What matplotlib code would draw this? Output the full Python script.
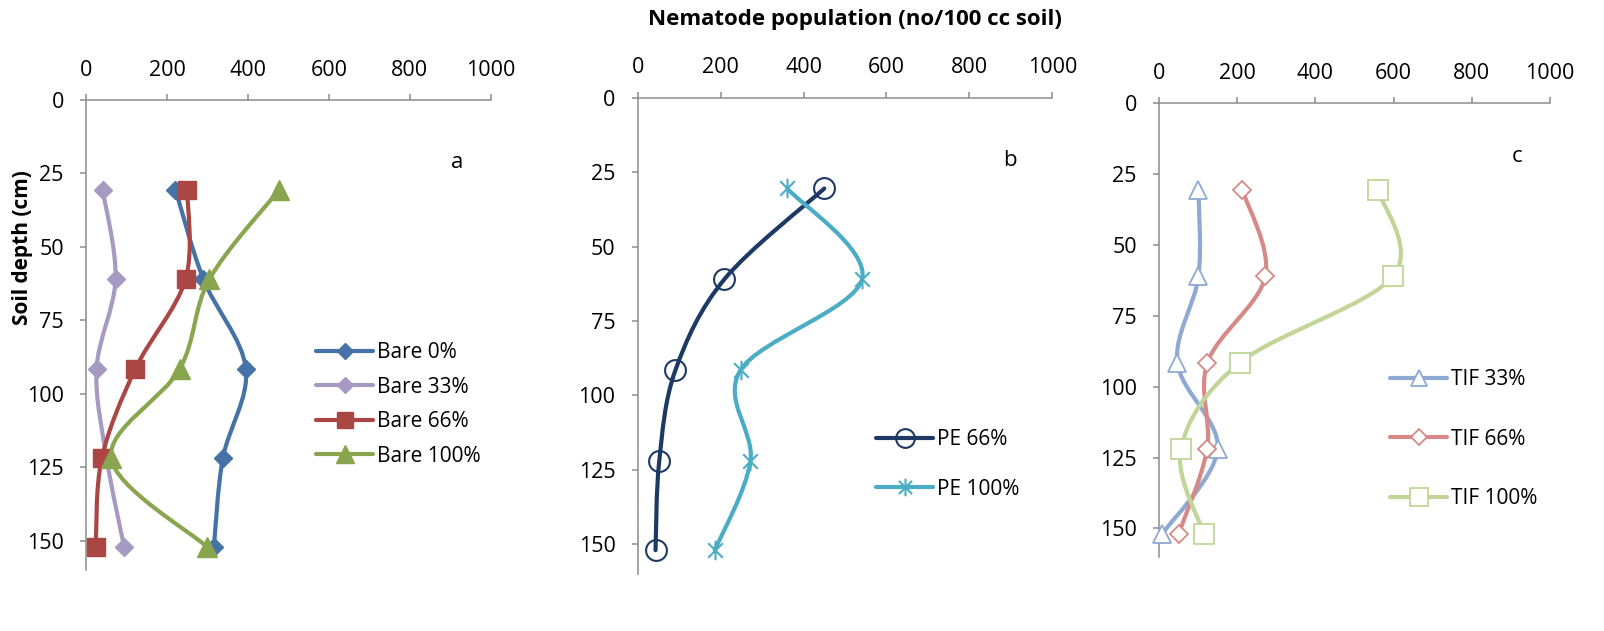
import numpy as np
import matplotlib
matplotlib.use("Agg")
import matplotlib.pyplot as plt
from matplotlib.path import Path
from matplotlib.patches import PathPatch
from matplotlib.lines import Line2D

plt.rcParams['font.family'] = ['Open Sans', 'DejaVu Sans']

# ---------------- data ----------------
depth = [30.5, 61, 91.5, 122, 152]

bare_labels = ["Bare 0%", "Bare 33%", "Bare 66%", "Bare 100%"]
bare_0 = [221, 290, 395, 338, 316]
bare_33 = [41, 73, 26, 51, 94]
bare_66 = [250, 246, 122, 39, 24]
bare_100 = [478, 305, 232, 62, 298]

pe_labels = ["PE 66%", "PE 100%"]
pe_66 = [450, 209, 91, 52, 43]
pe_100 = [361, 541, 248, 272, 186]

tif_labels = ["TIF 33%", "TIF 66%", "TIF 100%"]
tif_33 = [101, 101, 47, 150, 8]
tif_66 = [213, 272, 124, 123, 50]
tif_100 = [560, 599, 207, 56, 115]

panel_letters = ["a", "b", "c"]
x_ticks = [0, 200, 400, 600, 800, 1000]
y_ticks = [0, 25, 50, 75, 100, 125, 150]

W, H = 1604, 631
fig = plt.figure(figsize=(W / 100, H / 100), dpi=100)

TICK_FS = 15.5
LEG_FS = 15
star = Path([(0, -1), (0, 1), (-0.75, -0.75), (0.75, 0.75), (-0.75, 0.75), (0.75, -0.75)],
            [Path.MOVETO, Path.LINETO, Path.MOVETO, Path.LINETO, Path.MOVETO, Path.LINETO])


def smooth_path(x, y):
    P = np.column_stack([x, y]).astype(float)
    m = len(P)
    verts = [P[0]]
    codes = [Path.MOVETO]
    for i in range(m - 1):
        p0 = P[i - 1] if i > 0 else P[i]
        p3 = P[i + 2] if i + 2 < m else P[i + 1]
        c1 = P[i] + (P[i + 1] - p0) / 6.0
        c2 = P[i + 1] - (p3 - P[i]) / 6.0
        verts += [c1, c2, P[i + 1]]
        codes += [Path.CURVE4] * 3
    return Path(verts, codes)


def make_axes(px_left, px_right, px_top, px_bottom):
    l = px_left / W
    w = (px_right - px_left) / W
    b = 1 - px_bottom / H
    h = (px_bottom - px_top) / H
    ax = fig.add_axes([l, b, w, h])
    ax.set_xlim(0, 1000)
    ax.set_ylim(160, 0)
    ax.xaxis.tick_top()
    ax.set_xticks(x_ticks)
    ax.set_yticks(y_ticks)
    for s in ["right", "bottom"]:
        ax.spines[s].set_visible(False)
    for s in ["left", "top"]:
        ax.spines[s].set_color("#8c8c8c")
        ax.spines[s].set_linewidth(1.1)
    ax.tick_params(axis="both", direction="out", length=4, width=1.1, color="#8c8c8c",
                   labelsize=TICK_FS, labelcolor="black")
    ax.tick_params(axis="x", pad=10)
    ax.tick_params(axis="y", pad=12)
    ax.patch.set_visible(False)
    return ax


def draw_series(ax, x, y, color, lw, marker, ms, mfc, mec, mew, label):
    ax.add_patch(PathPatch(smooth_path(x, y), fill=False, edgecolor=color, lw=lw,
                           capstyle="round", joinstyle="round", zorder=2))
    ax.plot(x, y, ls="none", marker=marker, ms=ms, mfc=mfc, mec=mec, mew=mew, zorder=3,
            clip_on=False)
    return Line2D([], [], color=color, lw=lw, marker=marker, ms=ms * 0.9, mfc=mfc, mec=mec,
                  mew=mew, solid_capstyle="round", label=label)


LW = 3.0
leg_kw = dict(loc="upper left", frameon=False, fontsize=LEG_FS, handlelength=2.75,
              handletextpad=0.2, borderpad=0, borderaxespad=0, numpoints=1)

# Panel a
ax1 = make_axes(86, 490.7, 100, 570)
bare_series = [bare_0, bare_33, bare_66, bare_100]
bare_style = [("#4572A7", "D", 9), ("#A69AC2", "D", 9), ("#AA4643", "s", 13), ("#89A54E", "^", 14)]
h1 = []
for vals, (c, mk, ms), lab in zip(bare_series, bare_style, bare_labels):
    h1.append(draw_series(ax1, vals, depth, c, LW, mk, ms, c, c, 1, lab))
fig.text(457 / W, 1 - 162 / H, panel_letters[0], fontsize=16, ha="center", va="center")
fig.legend(handles=h1, bbox_to_anchor=(316 / W, 1 - 342 / H), labelspacing=0.65, **leg_kw)

# Panel b
ax2 = make_axes(637.7, 1052.3, 97.7, 574)
h2 = []
h2.append(draw_series(ax2, pe_66, depth, "#1C3A63", LW, "o", 15, "none", "#1C3A63", 1.5,
                      pe_labels[0]))
h2.append(draw_series(ax2, pe_100, depth, "#4BACC6", LW, star, 14, "none", "#4BACC6", 1.5,
                      pe_labels[1]))
fig.text(1010 / W, 1 - 160 / H, panel_letters[1], fontsize=16, ha="center", va="center")
fig.legend(handles=h2, bbox_to_anchor=(876 / W, 1 - 429 / H), labelspacing=1.38, **leg_kw)

# Panel c
ax3 = make_axes(1159, 1550, 103.3, 556.7)
tif_series = [tif_33, tif_66, tif_100]
tif_style = [("#8EA9D3", "^", 13), ("#D68A87", "D", 9), ("#C0D597", "s", 14)]
h3 = []
for vals, (c, mk, ms), lab in zip(tif_series, tif_style, tif_labels):
    h3.append(draw_series(ax3, vals, depth, c, LW, mk, ms, "white", c, 1.3, lab))
fig.text(1517 / W, 1 - 157 / H, panel_letters[2], fontsize=16, ha="center", va="center")
fig.legend(handles=h3, bbox_to_anchor=(1390 / W, 1 - 369 / H), labelspacing=1.85, **leg_kw)

fig.text(855 / W, 1 - 20 / H, "Nematode population (no/100 cc soil)", fontsize=16,
         fontweight="bold", ha="center", va="center")
fig.text(23 / W, 1 - 248 / H, "Soil depth (cm)", fontsize=15, fontweight="bold",
         rotation=90, ha="center", va="center")

fig.savefig("out.png", dpi=100)
